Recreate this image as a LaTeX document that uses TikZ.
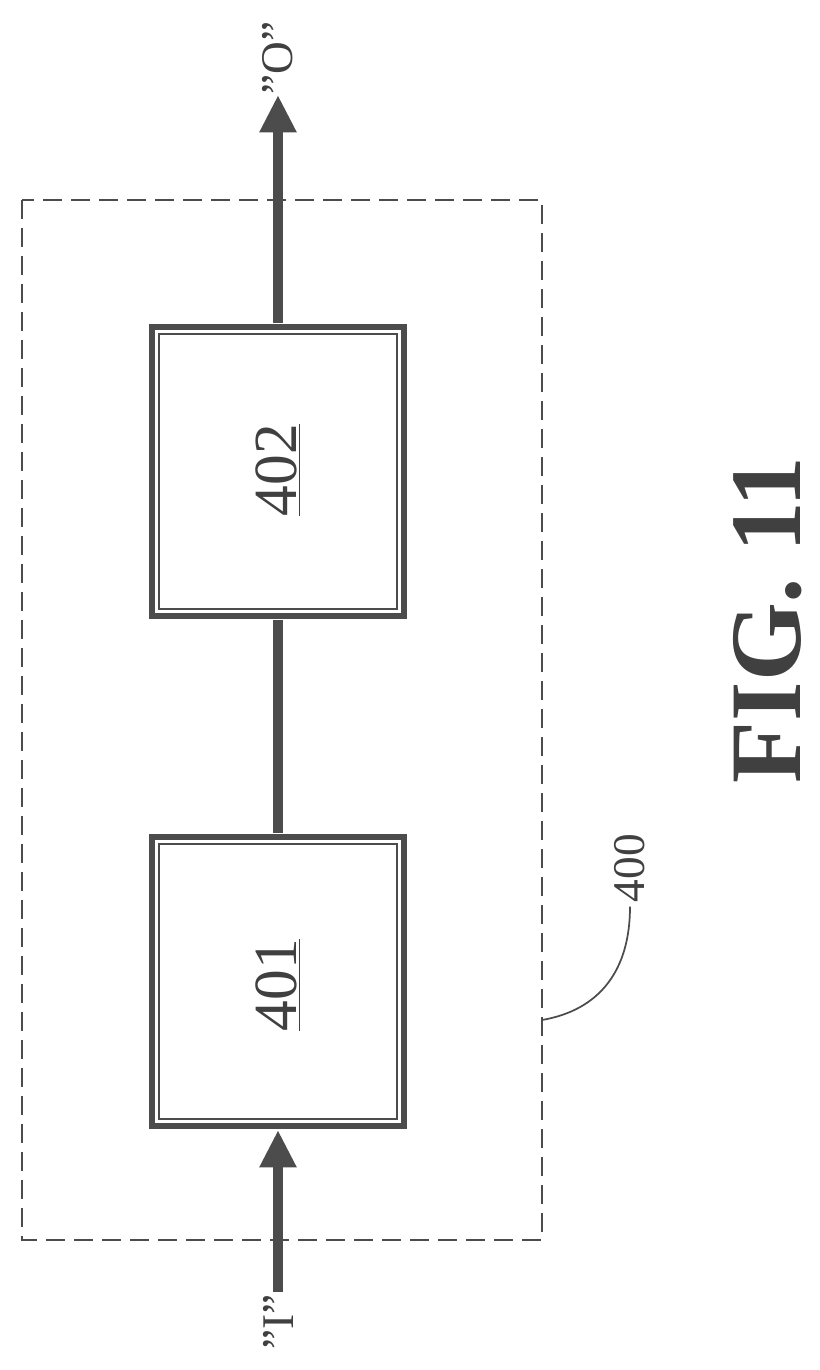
\documentclass[tikz,border=0pt]{standalone}
\usepackage{fontspec}
\setmainfont{Liberation Serif}
\usetikzlibrary{arrows.meta}
\begin{document}
\begin{tikzpicture}[x=0.75pt,y=-0.75pt,
  ink/.style={draw=black!70},
  blk/.style={ink,line width=5pt},
  inner/.style={ink,line width=0.8pt},
  wire/.style={ink,line width=7pt},
  arr/.style={wire,-{Triangle[length=28pt,width=26pt]}},
  lbl/.style={rotate=90,font=\fontsize{34}{34}\selectfont,text=black!75}]
\useasboundingbox (0,0) rectangle (820,1370);
\draw[ink,line width=1.6pt,dash pattern=on 14pt off 7pt] (22,200) rectangle (542,1240);
\draw[blk] (152,837) rectangle (404,1126);
\draw[inner] (159,844) rectangle (397,1119);
\draw[blk] (152,327) rectangle (404,616);
\draw[inner] (159,334) rectangle (397,609);
\coordinate (b1top) at (278,833);
\coordinate (b2bot) at (278,620);
\coordinate (b1bot) at (278,1130);
\coordinate (b2top) at (278,323);
\coordinate (in) at (278,1292);
\coordinate (out) at (278,95);
\draw[wire] (b1top) -- (b2bot);
\draw[arr] (in) -- (b1bot);
\draw[arr] (b2top) -- (out);
\node[lbl,font=\fontsize{46}{46}\selectfont] (t401) at (278,985) {\underline{401}};
\node[lbl,font=\fontsize{46}{46}\selectfont] (t402) at (278,470) {\underline{402}};
\node[lbl] (tI) at (278,1322) {{\char34}I{\char34}};
\node[lbl] (tO) at (278,58) {{\char34}O{\char34}};
\node[lbl] (t400) at (630,868) {400};
\coordinate (lead) at (542,1020);
\draw[ink,line width=1.3pt] (lead) .. controls (600,1010) and (630,970) .. (t400.west);
\node[rotate=90,font=\bfseries\fontsize{76}{76}\selectfont,text=black!75] (fig) at (768,620) {FIG. 11};
\end{tikzpicture}
\end{document}
